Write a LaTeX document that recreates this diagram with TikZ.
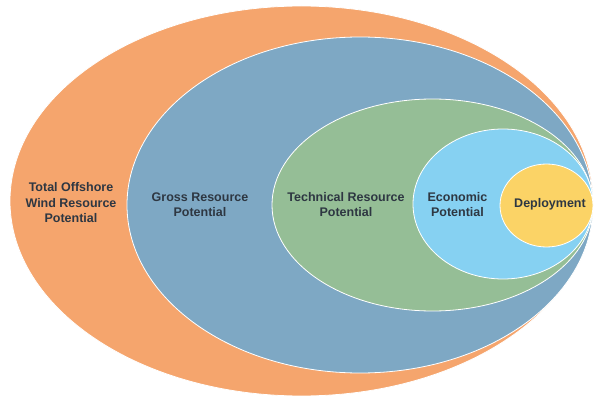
\documentclass[tikz,border=0pt]{standalone}
\usepackage{fontspec}
\usepackage{tikz}
\usepackage{xcolor}
\setsansfont{Liberation Sans}
\usetikzlibrary{shapes.geometric, positioning}

\definecolor{totalcol}{HTML}{F5A56D}
\definecolor{grosscol}{HTML}{7EA8C4}
\definecolor{techcol}{HTML}{95BE96}
\definecolor{econcol}{HTML}{86D1F2}
\definecolor{deploycol}{HTML}{FBD366}
\definecolor{labelcol}{HTML}{2E3742}

\begin{document}
\begin{tikzpicture}[
        x=1pt, y=-1pt,
        area/.style={ellipse, draw=white, line width=0.8pt, inner sep=0pt},
        caption/.style={font=\sffamily\bfseries\fontsize{12.5}{15.5}\selectfont, text=labelcol, align=center}
    ]
        \useasboundingbox (0,0) rectangle (595,396);

        % Nested areas
        \node[area, fill=totalcol, minimum width=583pt, minimum height=390pt] (total) at (301.5,201) {};
        \node[area, fill=grosscol, minimum width=466pt, minimum height=336pt] (gross) at (360,205) {};
        \node[area, fill=techcol, minimum width=321pt, minimum height=212pt] (tech) at (432.5,205) {};
        \node[area, fill=econcol, minimum width=180pt, minimum height=150pt] (econ) at (503,204) {};
        \node[area, fill=deploycol, minimum width=93pt, minimum height=83pt] (deploy) at (546.5,205.5) {};

        % Labels
        \node[caption] (totallabel) at (71,203) {Total Offshore\\Wind Resource\\Potential};
        \node[caption] (grosslabel) at (200,204.5) {Gross Resource\\Potential};
        \node[caption] (techlabel) at (346,204.5) {Technical Resource\\Potential};
        \node[caption] (econlabel) at (457.5,204.5) {Economic\\Potential};
        \node[caption] (deploylabel) at (550,204) {Deployment};
    \end{tikzpicture}
\end{document}
